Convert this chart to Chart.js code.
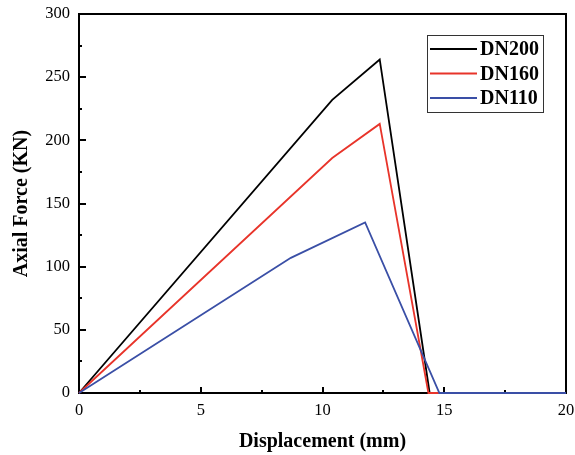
<!DOCTYPE html>
<html>
<head>
<meta charset="utf-8">
<script src="https://cdn.jsdelivr.net/npm/chart.js@4/dist/chart.umd.min.js"></script>
<style>
  html, body { margin: 0; padding: 0; background: #fff; }
  #wrap { width: 575px; height: 455px; }
</style>
</head>
<body>
<div id="wrap"><canvas id="c" width="575" height="455"></canvas></div>
<script>
// Load–displacement curves of the three pipe sizes
const seriesNames = ['DN200', 'DN160', 'DN110'];
const seriesColors = ['#000000', '#e8342a', '#3a4fa6'];

const dn200X = [0, 10.4, 12.35, 14.4, 20];
const dn200Y = [0, 232, 264, 0, 0];

const dn160X = [0, 10.4, 12.35, 14.35, 20];
const dn160Y = [0, 186, 213, 0, 0];

const dn110X = [0, 8.7, 11.75, 14.8, 20];
const dn110Y = [0, 107, 135, 0, 0];

const xTicks = [0, 5, 10, 15, 20];
const yTicks = [0, 50, 100, 150, 200, 250, 300];

const toPoints = (xs, ys) => xs.map((x, i) => ({ x: x, y: ys[i] }));

const SERIF = '"Liberation Serif", "Times New Roman", serif';

// Frame with inward ticks (under the curves)
const framePlugin = {
  id: 'frame',
  beforeDatasetsDraw(chart) {
    const { ctx, chartArea: a, scales } = chart;
    const xs = scales.x, ys = scales.y;
    ctx.save();
    ctx.strokeStyle = '#000';
    ctx.lineWidth = 2;
    ctx.beginPath();
    for (let v = 0; v <= 20; v += 2.5) {
      const px = Math.round(xs.getPixelForValue(v));
      const len = (v % 5 === 0) ? 6 : 3;
      ctx.moveTo(px, a.bottom);
      ctx.lineTo(px, a.bottom - len);
    }
    for (let v = 0; v <= 300; v += 25) {
      const py = Math.round(ys.getPixelForValue(v));
      const len = (v % 50 === 0) ? 7 : 3;
      ctx.moveTo(a.left, py);
      ctx.lineTo(a.left + len, py);
    }
    ctx.stroke();
    ctx.strokeRect(a.left, a.top, a.right - a.left, a.bottom - a.top);
    ctx.restore();
  },
  // boxed legend on top
  afterDatasetsDraw(chart) {
    const { ctx } = chart;
    ctx.save();
    const bx = 427, by = 35, bw = 116, bh = 77;
    ctx.lineWidth = 1;
    ctx.strokeStyle = '#333';
    ctx.fillStyle = '#fff';
    ctx.fillRect(bx, by, bw, bh);
    ctx.strokeRect(bx + 0.5, by + 0.5, bw, bh);
    ctx.font = 'bold 20px ' + SERIF;
    ctx.textBaseline = 'middle';
    ctx.textAlign = 'left';
    chart.data.datasets.forEach((ds, i) => {
      const yy = 49 + i * 24.5;
      ctx.strokeStyle = ds.borderColor;
      ctx.lineWidth = 2;
      ctx.beginPath();
      ctx.moveTo(430, yy);
      ctx.lineTo(477, yy);
      ctx.stroke();
      ctx.fillStyle = '#000';
      ctx.fillText(ds.label, 480, yy + 1);
    });
    ctx.restore();
  }
};

const datasets = [
  { label: seriesNames[0], data: toPoints(dn200X, dn200Y), borderColor: seriesColors[0], order: 3 },
  { label: seriesNames[1], data: toPoints(dn160X, dn160Y), borderColor: seriesColors[1], order: 2 },
  { label: seriesNames[2], data: toPoints(dn110X, dn110Y), borderColor: seriesColors[2], order: 1 }
].map(d => Object.assign(d, {
  borderWidth: 1.8,
  pointRadius: 0,
  fill: false,
  tension: 0,
  clip: false,
  backgroundColor: d.borderColor
}));

new Chart(document.getElementById('c'), {
  type: 'line',
  data: { datasets: datasets },
  options: {
    responsive: false,
    animation: false,
    layout: { padding: { left: 6, right: 9, top: 14, bottom: 0 } },
    plugins: { legend: { display: false }, tooltip: { enabled: false } },
    scales: {
      x: {
        type: 'linear',
        min: 0, max: 20,
        afterBuildTicks: s => { s.ticks = xTicks.map(v => ({ value: v })); },
        afterFit: s => { s.height = 62; s.paddingLeft = 0; s.paddingRight = 0; },
        grid: { display: false, drawTicks: false },
        border: { display: false },
        ticks: { color: '#000', padding: 8, font: { family: SERIF, size: 16.5 } },
        title: {
          display: true, text: 'Displacement (mm)', color: '#000',
          font: { family: SERIF, size: 20, weight: 'bold' }, padding: { top: 9, bottom: 1 }
        }
      },
      y: {
        type: 'linear',
        min: 0, max: 300,
        afterBuildTicks: s => { s.ticks = yTicks.map(v => ({ value: v })); },
        afterFit: s => { s.width = 73; s.paddingTop = 0; s.paddingBottom = 0; },
        grid: { display: false, drawTicks: false },
        border: { display: false },
        ticks: { color: '#000', padding: 9, font: { family: SERIF, size: 16.5 } },
        title: {
          display: true, text: 'Axial Force (KN)', color: '#000',
          font: { family: SERIF, size: 20, weight: 'bold' }, padding: { bottom: 4 }
        }
      }
    }
  },
  plugins: [framePlugin]
});
</script>
</body>
</html>
